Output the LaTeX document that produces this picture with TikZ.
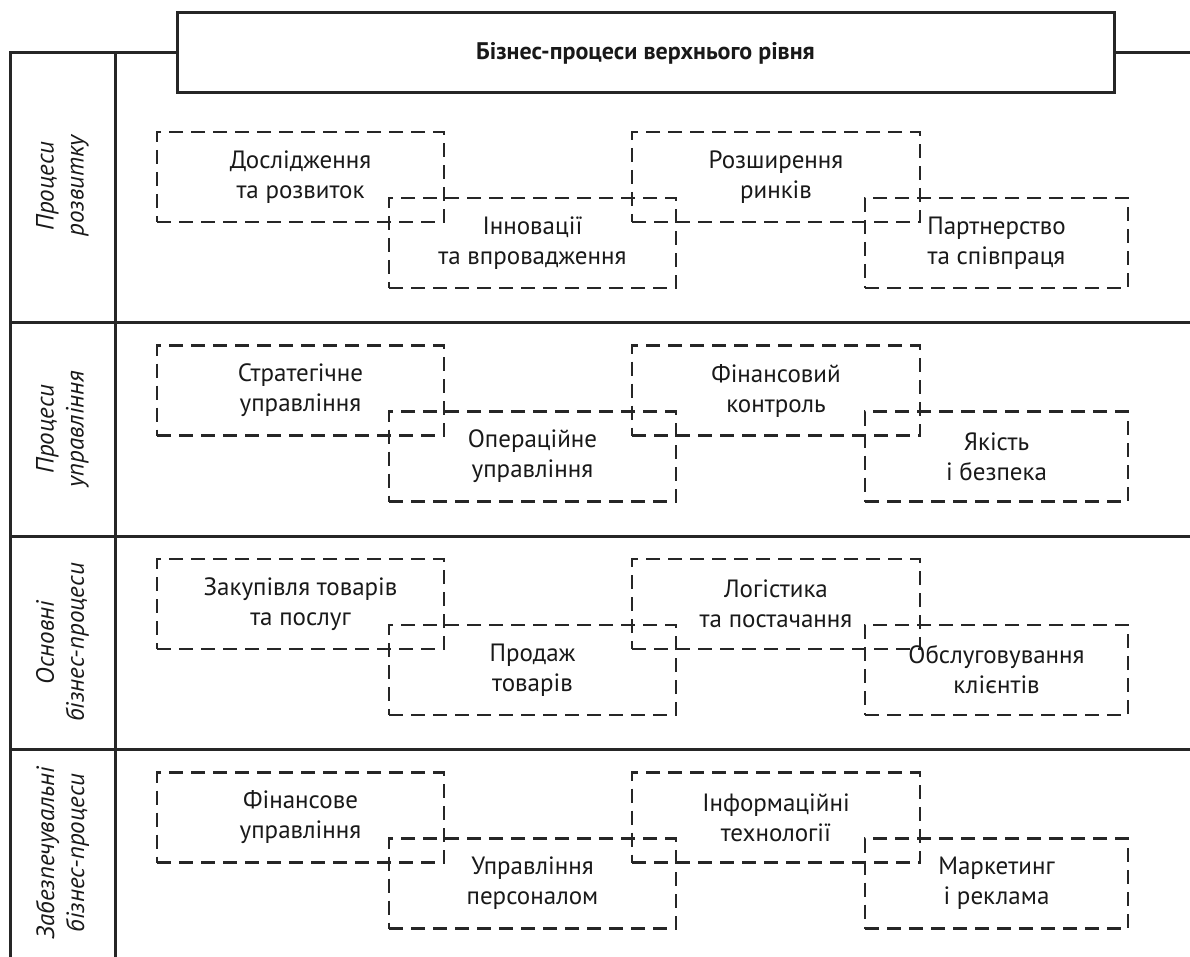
\documentclass[tikz,border=0pt]{standalone}
\usepackage{fontspec}
\setmainfont{PT Sans}
\begin{document}
\begin{tikzpicture}[x=1pt,y=-1pt]
\tikzstyle{every node}=[font=\fontsize{25}{30}\selectfont, text=black!90]
\tikzstyle{frame}=[line width=3pt, black!85]
\tikzstyle{proc}=[draw=black!85, line width=2.8pt, dash pattern=on 14pt off 8pt, align=center, minimum height=90pt, inner sep=0pt]
\tikzstyle{rowlabel}=[rotate=90, align=center, font=\fontsize{25}{30}\selectfont\itshape]
\useasboundingbox (0,0) rectangle (1190,957);
    % title and frame
    \node[draw=black!85, line width=3pt, minimum width=937pt, minimum height=80pt, font=\fontsize{24}{30}\selectfont\bfseries] (title) at (645.5,53) {Бізнес-процеси верхнього рівня};
    \coordinate (tl) at (10,53);
    \coordinate (tr) at (1190,53);
    \coordinate (cl) at (115,53);
    \draw[frame] (10,957) -- (tl) -- (title.west);
    \draw[frame] (title.east) -- (tr);
    \draw[frame] (cl) -- (115,957);
    \draw[frame] (10,322.5) -- (1190,322.5);
    \draw[frame] (10,536) -- (1190,536);
    \draw[frame] (10,749.5) -- (1190,749.5);

    % row labels
    \node[rowlabel] (lbl1) at (62.5,186) {Процеси\\розвитку};
    \node[rowlabel] (lbl2) at (62.5,429) {Процеси\\управління};
    \node[rowlabel] (lbl3) at (62.5,642.5) {Основні\\бізнес-процеси};
    \node[rowlabel] (lbl4) at (62.5,853) {Забезпечувальні\\бізнес-процеси};

    % development
    \node[proc, minimum width=287pt] (dev1) at (300.5,177) {Дослідження\\та розвиток};
    \node[proc, minimum width=287pt] (dev2) at (532.5,243) {Інновації\\та впровадження};
    \node[proc, minimum width=288pt] (dev3) at (776,177) {Розширення\\ринків};
    \node[proc, minimum width=263pt] (dev4) at (996.5,243) {Партнерство\\та співпраця};

    % management
    \node[proc, minimum width=287pt] (mgt1) at (300.5,390.5) {Стратегічне\\управління};
    \node[proc, minimum width=287pt] (mgt2) at (532.5,456.5) {Операційне\\управління};
    \node[proc, minimum width=288pt] (mgt3) at (776,390.5) {Фінансовий\\контроль};
    \node[proc, minimum width=263pt] (mgt4) at (996.5,456.5) {Якість\\і безпека};

    % core
    \node[proc, minimum width=287pt] (core1) at (300.5,604) {Закупівля товарів\\та послуг};
    \node[proc, minimum width=287pt] (core2) at (532.5,670) {Продаж\\товарів};
    \node[proc, minimum width=288pt] (core3) at (776,604) {Логістика\\та постачання};
    \node[proc, minimum width=263pt] (core4) at (996.5,670) {Обслуговування\\клієнтів};

    % support
    \node[proc, minimum width=287pt] (sup1) at (300.5,817.5) {Фінансове\\управління};
    \node[proc, minimum width=287pt] (sup2) at (532.5,883.5) {Управління\\персоналом};
    \node[proc, minimum width=288pt] (sup3) at (776,817.5) {Інформаційні\\технології};
    \node[proc, minimum width=263pt] (sup4) at (996.5,883.5) {Маркетинг\\і реклама};
\end{tikzpicture}
\end{document}
